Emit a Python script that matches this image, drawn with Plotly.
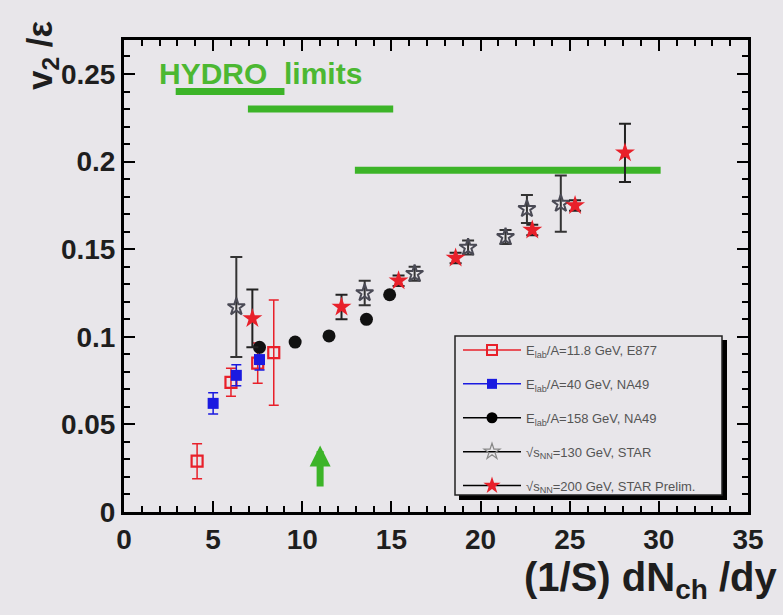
import plotly.graph_objects as go

# ---------------- data ----------------
e877_x = [4.1, 6.0, 7.5, 8.4]
e877_y = [0.029, 0.074, 0.085, 0.091]
e877_err = [0.010, 0.008, 0.0115, 0.030]

na40_x = [5.0, 6.3, 7.6]
na40_y = [0.062, 0.078, 0.087]
na40_err = [0.006, 0.006, 0.006]

na158_x = [7.6, 9.6, 11.5, 13.6, 14.9]
na158_y = [0.094, 0.097, 0.1005, 0.110, 0.124]

star130_x = [6.3, 13.5, 16.3, 19.3, 21.4, 22.6, 24.5]
star130_y = [0.117, 0.125, 0.136, 0.151, 0.157, 0.173, 0.176]
star130_err = [0.0286, 0.007, 0.004, 0.004, 0.004, 0.008, 0.016]

star200_x = [7.2, 12.2, 15.4, 18.6, 22.9, 25.3, 28.1]
star200_y = [0.1105, 0.117, 0.132, 0.145, 0.161, 0.175, 0.205]
star200_err = [0.0165, 0.007, 0.003, 0.003, 0.003, 0.003, 0.0166]

hydro_x0 = [2.9, 6.95, 12.95]
hydro_x1 = [9.0, 15.1, 30.1]
hydro_y = [0.240, 0.230, 0.195]

arrow_x = 11.0
arrow_tip_y = 0.038
arrow_tail_y = 0.0137

x_tickvals = [0, 5, 10, 15, 20, 25, 30, 35]
x_ticktext = ["0", "5", "10", "15", "20", "25", "30", "35"]
y_tickvals = [0, 0.05, 0.1, 0.15, 0.2, 0.25]
y_ticktext = ["0", "0.05", "0.1", "0.15", "0.2", "0.25"]

names = [
    "E<sub>lab</sub>/A=11.8 GeV, E877",
    "E<sub>lab</sub>/A=40 GeV, NA49",
    "E<sub>lab</sub>/A=158 GeV, NA49",
    "√s<sub>NN</sub>=130 GeV, STAR",
    "√s<sub>NN</sub>=200 GeV, STAR Prelim.",
]

BG = "#e8e6ea"
GREEN = "#3cb428"
RED = "#e8202a"
BLUE = "#1a1ae0"
FONT = "Liberation Sans, Arial, sans-serif"

fig = go.Figure()

# hydro limit lines
for x0, x1, yy in zip(hydro_x0, hydro_x1, hydro_y):
    fig.add_trace(go.Scatter(x=[x0, x1], y=[yy, yy], mode="lines",
                             line=dict(color=GREEN, width=7), showlegend=False,
                             hoverinfo="skip"))

# data series
fig.add_trace(go.Scatter(
    x=e877_x, y=e877_y, mode="markers", showlegend=False,
    marker=dict(symbol="square-open", size=11, color=RED, line=dict(width=2.2, color=RED)),
    error_y=dict(type="data", array=e877_err, color=RED, thickness=1.5, width=5)))
fig.add_trace(go.Scatter(
    x=na40_x, y=na40_y, mode="markers", showlegend=False,
    marker=dict(symbol="square", size=11, color=BLUE, line=dict(width=0)),
    error_y=dict(type="data", array=na40_err, color=BLUE, thickness=1.5, width=5)))
fig.add_trace(go.Scatter(
    x=na158_x, y=na158_y, mode="markers", showlegend=False,
    marker=dict(symbol="circle", size=13, color="#111111", line=dict(width=0))))
fig.add_trace(go.Scatter(
    x=star130_x, y=star130_y, mode="markers", showlegend=False,
    marker=dict(symbol="star-open", size=13, color="#4a4a55", line=dict(width=2, color="#4a4a55")),
    error_y=dict(type="data", array=star130_err, color="#333333", thickness=2, width=6)))
fig.add_trace(go.Scatter(
    x=star200_x, y=star200_y, mode="markers", showlegend=False,
    marker=dict(symbol="star", size=15, color=RED, line=dict(width=0)),
    error_y=dict(type="data", array=star200_err, color="#222222", thickness=2, width=6)))

# legend entries (ROOT style: line + marker)
leg_styles = [
    dict(line=dict(color=RED, width=1.5), marker=dict(symbol="square-open", size=10, color=RED, line=dict(width=2, color=RED))),
    dict(line=dict(color=BLUE, width=1.5), marker=dict(symbol="square", size=10, color=BLUE)),
    dict(line=dict(color="black", width=1.5), marker=dict(symbol="circle", size=11, color="black")),
    dict(line=dict(color="black", width=1.5), marker=dict(symbol="star-open", size=12, color="#888", line=dict(width=1.2, color="#888"))),
    dict(line=dict(color="black", width=1.5), marker=dict(symbol="star", size=13, color=RED)),
]
for i, (nm, st) in enumerate(zip(names, leg_styles)):
    fig.add_trace(go.Scatter(x=[None], y=[None], mode="lines+markers", name=nm,
                             legendgroup=f"g{i}", **st))

# green arrow
fig.add_annotation(x=arrow_x, y=arrow_tip_y, ax=arrow_x, ay=arrow_tail_y,
                   xref="x", yref="y", axref="x", ayref="y", text="",
                   showarrow=True, arrowhead=2, arrowsize=0.6, arrowwidth=7,
                   arrowcolor=GREEN)

# HYDRO limits label
fig.add_annotation(x=(157 - 124) / 624, y=(512 - 73) / 472, xref="paper", yref="paper",
                   text="HYDRO  limits", showarrow=False,
                   xanchor="left", yanchor="middle",
                   font=dict(family=FONT, size=30, color="#4cb832", weight="bold"))

# axis titles
fig.add_annotation(x=(779 - 124) / 624, y=(512 - 580) / 472, xref="paper", yref="paper",
                   text="(1/S) dN<sub>ch</sub> /dy", showarrow=False, xanchor="right",
                   yanchor="middle",
                   font=dict(family=FONT, size=40, color="#1e1e1e", weight="bold"))
fig.add_annotation(x=(42 - 124) / 624, y=(512 - 18) / 472, xref="paper", yref="paper",
                   text="v<sub>2</sub> /ε", showarrow=False, textangle=-90,
                   xanchor="center", yanchor="top",
                   font=dict(family=FONT, size=35, color="#1e1e1e", weight="bold"))

# legend box with shadow
fig.add_shape(type="rect", xref="paper", yref="paper",
              x0=(459 - 124) / 624, x1=(727 - 124) / 624,
              y0=(512 - 500) / 472, y1=(512 - 340) / 472,
              fillcolor="black", line=dict(width=0), layer="above")
fig.add_shape(type="rect", xref="paper", yref="paper",
              x0=(455 - 124) / 624, x1=(722 - 124) / 624,
              y0=(512 - 495) / 472, y1=(512 - 336) / 472,
              fillcolor=BG, line=dict(width=1.5, color="#222"), layer="above")

axis_common = dict(
    showline=True, linewidth=3, linecolor="black", mirror="allticks",
    ticks="inside", ticklen=11, tickwidth=2, tickcolor="black",
    showgrid=False, zeroline=False,
    tickfont=dict(family=FONT, size=28, color="#1e1e1e", weight="bold"),
)

fig.update_layout(
    width=783, height=615,
    paper_bgcolor=BG, plot_bgcolor=BG,
    margin=dict(l=124, r=35, t=40, b=103),
    xaxis=dict(range=[0, 35], tickmode="array", tickvals=x_tickvals, ticktext=x_ticktext,
               minor=dict(dtick=1, tick0=0, ticks="inside", ticklen=6, tickwidth=1.5,
                          tickcolor="black", showgrid=False),
               **axis_common),
    yaxis=dict(range=[0, 0.2694], tickmode="array", tickvals=y_tickvals, ticktext=y_ticktext,
               minor=dict(dtick=0.01, tick0=0, ticks="inside", ticklen=6, tickwidth=1.5,
                          tickcolor="black", showgrid=False),
               **axis_common),
    legend=dict(x=(458 - 124) / 624, y=(512 - 335) / 472, xanchor="left", yanchor="top",
                bgcolor="rgba(0,0,0,0)", borderwidth=0,
                font=dict(family=FONT, size=13, color="#555"),
                itemwidth=58, tracegroupgap=14),
    showlegend=True,
)

fig.write_html("out.html", config={"displayModeBar": False},
               post_script="document.body.style.margin='0';document.body.style.background='%s';" % BG)
